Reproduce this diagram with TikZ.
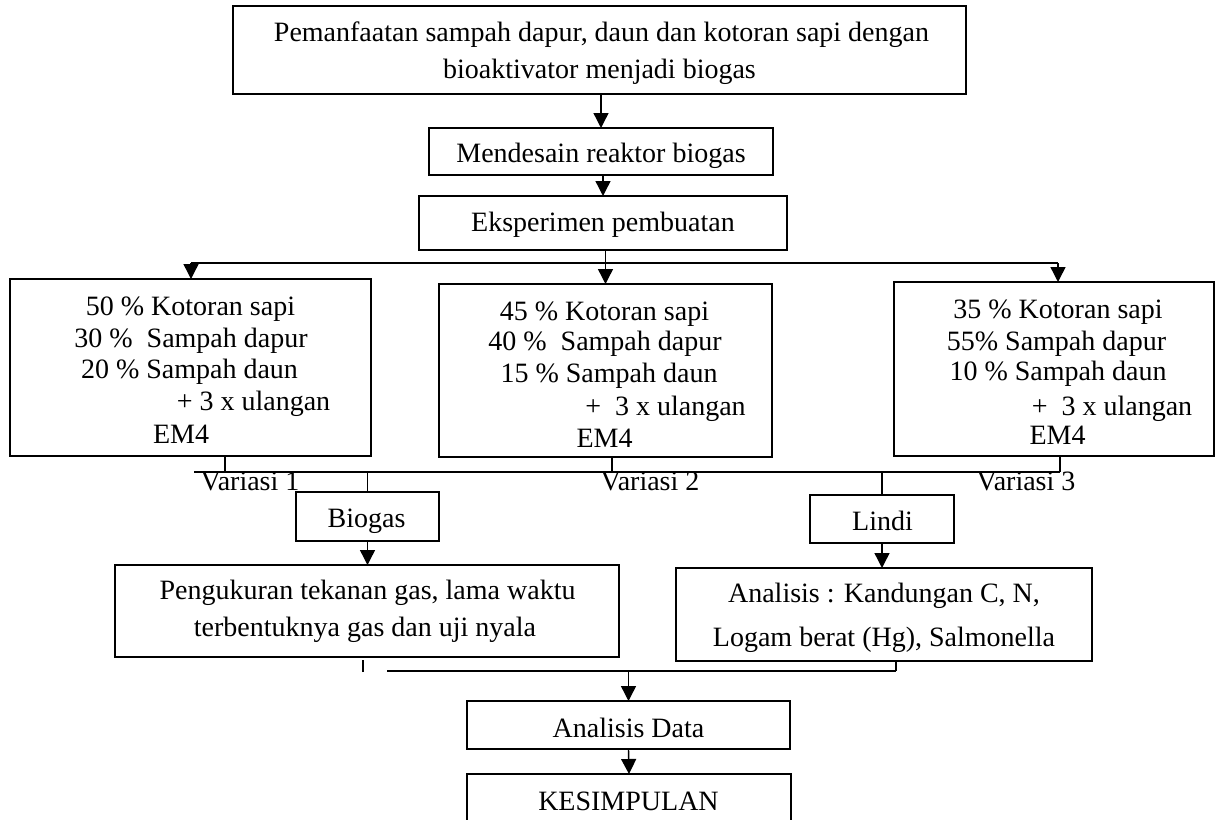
\documentclass[tikz,border=0pt]{standalone}
\usepackage{fontspec}
\setmainfont{Liberation Serif}
\usetikzlibrary{arrows.meta}
\begin{document}
\begin{tikzpicture}[x=1pt,y=-1pt,
  line width=1.4pt,
  box/.style={draw, line width=1.4pt, inner sep=0pt, outer sep=0pt},
  txt/.style={font=\fontsize{28}{32}\selectfont, inner sep=0pt, anchor=base},
  arr/.style={-{Triangle[width=15pt,length=15pt]}}]
\useasboundingbox (0,0) rectangle (1217,819);

% boxes
\node[box, minimum width=733, minimum height=88] (top) at (599.5,50) {};
\node[box, minimum width=344, minimum height=47] (mend) at (601,151.5) {};
\node[box, minimum width=368, minimum height=54] (eks) at (603,223) {};
\node[box, minimum width=361, minimum height=177] (b1) at (190.5,367.5) {};
\node[box, minimum width=333, minimum height=173] (b2) at (605.5,370.5) {};
\node[box, minimum width=320, minimum height=174] (b3) at (1054,369) {};
\node[box, minimum width=143, minimum height=49] (biogas) at (367.5,516.5) {};
\node[box, minimum width=144, minimum height=48] (lindi) at (882,519) {};
\node[box, minimum width=504, minimum height=92] (peng) at (367,611) {};
\node[box, minimum width=416, minimum height=93] (anl) at (884,614.5) {};
\node[box, minimum width=323, minimum height=48] (data) at (628.5,725) {};
\node[box, minimum width=324, minimum height=66] (kes) at (629,807) {};

% texts
\node[txt] (top1) at (601.5,41) {Pemanfaatan sampah dapur, daun dan kotoran sapi dengan};
\node[txt] (top2) at (599.5,78) {bioaktivator menjadi biogas};
\node[txt] (mendt) at (601,162) {Mendesain reaktor biogas};
\node[txt] (ekst) at (603,231) {Eksperimen pembuatan};

\node[txt] (b1a) at (190.5,315) {50 \% Kotoran sapi};
\node[txt] (b1b) at (191,347) {30 \%\ \ Sampah dapur};
\node[txt] (b1c) at (189.5,378) {20 \% Sampah daun};
\node[txt] (b1d) at (253.5,410) {+ 3 x ulangan};
\node[txt] (b1e) at (181,443) {EM4};

\node[txt] (b2a) at (604.5,320) {45 \% Kotoran sapi};
\node[txt] (b2b) at (605,350) {40 \%\ \ Sampah dapur};
\node[txt] (b2c) at (609,382) {15 \% Sampah daun};
\node[txt] (b2d) at (665.5,415) {+\ \ 3 x ulangan};
\node[txt] (b2e) at (604.5,447) {EM4};

\node[txt] (b3a) at (1058,318) {35 \% Kotoran sapi};
\node[txt] (b3b) at (1056.5,350) {55\% Sampah dapur};
\node[txt] (b3c) at (1058,380) {10 \% Sampah daun};
\node[txt] (b3d) at (1112,415) {+\ \ 3 x ulangan};
\node[txt] (b3e) at (1057.5,444) {EM4};

\node[txt] (v1) at (250,490) {Variasi 1};
\node[txt] (v2) at (650,490) {Variasi 2};
\node[txt] (v3) at (1026,490) {Variasi 3};

\node[txt] (biogast) at (366.5,527) {Biogas};
\node[txt] (lindit) at (882.5,530) {Lindi};
\node[txt] (peng1) at (367.5,599) {Pengukuran tekanan gas, lama waktu};
\node[txt] (peng2) at (365,636) {terbentuknya gas dan uji nyala};
\node[txt] (anl1) at (884,602) {Analisis : Kandungan C, N,};
\node[txt] (anl2) at (884,646) {Logam berat (Hg), Salmonella};
\node[txt] (datat) at (628.5,737) {Analisis Data};
\node[txt] (kest) at (628.5,810) {KESIMPULAN};

% top connectors
\draw[arr] (mend.north |- top.south) -- (mend.north);
\draw[arr] (eks.north |- mend.south) -- (eks.north);
\coordinate (hl) at (191,263);
\coordinate (hr) at (1058,263);
\draw (hl) -- (hr);
\draw[arr] (b2.north |- eks.south) -- (b2.north);
\draw[arr] (hl) -- (hl |- b1.north);
\draw[arr] (hr) -- (hr |- b3.north);

% variation collector
\coordinate (vl) at (194,472);
\coordinate (vr) at (1060,472);
\coordinate (s1) at (225,472);
\coordinate (s2) at (612,472);
\draw (vl) -- (vr);
\draw (s1 |- b1.south) -- (s1);
\draw (s2 |- b2.south) -- (s2);
\draw (vr |- b3.south) -- (vr);
\draw (biogas.north |- vl) -- (biogas.north);
\draw (lindi.north |- vl) -- (lindi.north);
\draw[arr] (biogas.south) -- (biogas.south |- peng.north);
\draw[arr] (lindi.south) -- (lindi.south |- anl.north);

% merge
\coordinate (ml) at (387,671);
\coordinate (mr) at (896,671);
\coordinate (tk) at (363,672);
\draw (ml) -- (mr);
\draw (mr |- anl.south) -- (mr);
\draw (tk) -- ++(0,-12);
\draw[arr] (data.north |- ml) -- (data.north);
\draw[arr] (data.south) -- (kes.north);
\end{tikzpicture}
\end{document}
